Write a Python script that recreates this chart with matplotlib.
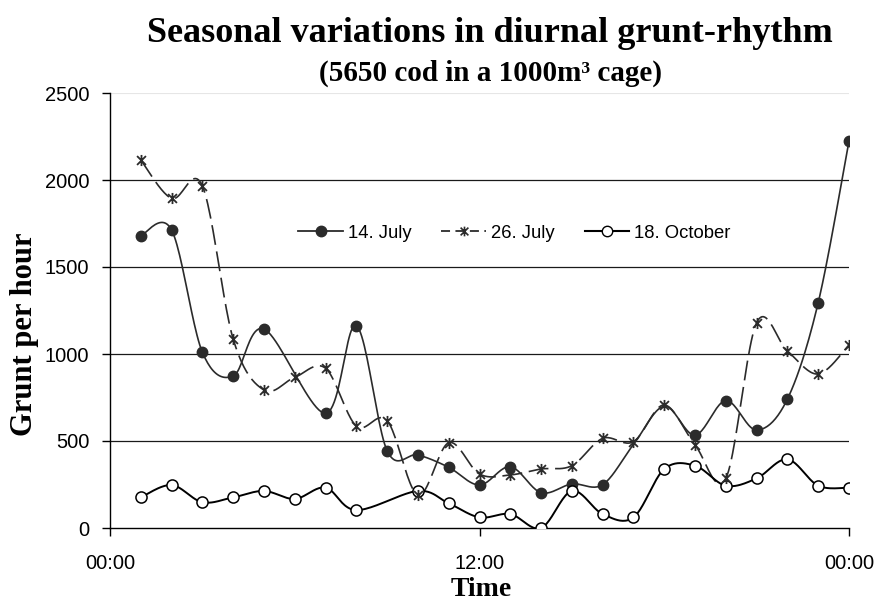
import numpy as np
import matplotlib
matplotlib.use("Agg")
import matplotlib.pyplot as plt
from matplotlib.path import Path
from matplotlib.lines import Line2D

# hourly grunt counts (nan = no value)
hours = list(range(1, 25))
july14 = [1680, 1713, 1010, 873, 1144, np.nan, 659, 1163, 444, 420, 349, 247,
          352, 203, 253, 249, 480, 700, 534, 732, 563, 741, 1295, 2224]
july26 = [2115, 1894, 1966, 1086, 793, 866, 918, 586, 617, 190, 490, 310,
          305, 339, 358, 515, 496, 707, 477, 285, 1180, 1017, 885, 1052]
oct18 = [176, 247, 148, 176, 213, 167, 232, 103, np.nan, 213, 142, 61,
         80, 0, 213, 80, 61, 339, 358, 243, 285, 395, 243, 232]
july14_no_marker = [17, 18]

tick_hours = [0, 12, 24]
tick_labels = ["00:00", "12:00", "00:00"]
y_ticks = [0, 500, 1000, 1500, 2000, 2500]

SERIF = ["Liberation Serif", "DejaVu Serif"]
SANS = ["Liberation Sans", "DejaVu Sans"]
LINE = "#2b2b2b"


def smooth(x, y, n=24):
    # excel-like smoothed line (cubic bezier, catmull-rom control points)
    p = np.array([(a, b) for a, b in zip(x, y) if not np.isnan(b)], float)
    ext = np.vstack([p[0], p, p[-1]])
    t = np.linspace(0, 1, n)[:, None]
    out = []
    for i in range(1, len(ext) - 2):
        p0, p1, p2, p3 = ext[i - 1], ext[i], ext[i + 1], ext[i + 2]
        c1 = p1 + (p2 - p0) / 6
        c2 = p2 - (p3 - p1) / 6
        seg = ((1 - t) ** 3) * p1 + 3 * (1 - t) ** 2 * t * c1 + 3 * (1 - t) * t ** 2 * c2 + t ** 3 * p2
        out.append(seg if i == 1 else seg[1:])
    out = np.vstack(out)
    return out[:, 0], out[:, 1]


star = Path([(-1, -1), (1, 1), (-1, 1), (1, -1), (0, -1.25), (0, 1.25)],
            [Path.MOVETO, Path.LINETO, Path.MOVETO, Path.LINETO, Path.MOVETO, Path.LINETO])

fig = plt.figure(figsize=(8.81, 6.04), dpi=100)
ax = fig.add_axes([110 / 881, 1 - 528 / 604, 739 / 881, 435 / 604])

for v in [500, 1000, 1500, 2000]:
    ax.axhline(v, color="#1a1a1a", lw=0.9, zorder=1)
ax.axhline(2500, color="#e6e6e6", lw=0.8, zorder=1)

# 14. July
sx, sy = smooth(hours, july14)
ax.plot(sx, sy, color=LINE, lw=1.2, zorder=2)
mx = [h for h, v in zip(hours, july14) if not np.isnan(v) and h not in july14_no_marker]
my = [v for h, v in zip(hours, july14) if not np.isnan(v) and h not in july14_no_marker]
ax.plot(mx, my, ls="none", marker="o", ms=7.5, mfc=LINE, mec=LINE, zorder=3)

# 26. July
sx, sy = smooth(hours, july26)
ax.plot(sx, sy, color=LINE, lw=1.2, dashes=(12, 4), zorder=2)
ax.plot(hours, july26, ls="none", marker=star, ms=8, mec=LINE, mew=1.3, zorder=4)

# 18. October
sx, sy = smooth(hours, oct18)
ax.plot(sx, sy, color="black", lw=1.4, zorder=2)
ax.plot(hours, oct18, ls="none", marker="o", ms=8, mfc="white", mec="black", mew=1.1, zorder=3)

ax.set_xlim(0, 24)
ax.set_ylim(0, 2500)
ax.set_xticks(tick_hours)
ax.set_xticklabels(tick_labels, fontfamily=SANS, fontsize=14.5)
ax.set_yticks(y_ticks)
ax.set_yticklabels([str(v) for v in y_ticks], fontfamily=SANS, fontsize=14.5)
ax.tick_params(axis="both", direction="out", length=6, width=1, color="black", pad=9)
ax.tick_params(axis="x", pad=13)
for s in ["top", "right"]:
    ax.spines[s].set_visible(False)
for s in ["left", "bottom"]:
    ax.spines[s].set_color("black")
    ax.spines[s].set_linewidth(1)

fig.text(481 / 881, 1 - 590 / 604, "Time", ha="center", va="center",
         fontfamily=SERIF, fontweight="bold", fontsize=20)
fig.text(25 / 881, 1 - 334 / 604, "Grunt per hour", ha="center", va="center", rotation=90,
         fontfamily=SERIF, fontweight="bold", fontsize=22)

handles = [
    Line2D([], [], color=LINE, lw=1.3, marker="o", ms=7.5, mfc=LINE, mec=LINE),
    Line2D([], [], color=LINE, lw=1.3, dashes=(5, 3), marker=star, ms=7, mec=LINE, mew=1.2),
    Line2D([], [], color="black", lw=1.5, marker="o", ms=7.5, mfc="white", mec="black"),
]
leg = ax.legend(handles, ["14. July", "26. July", "18. October"], ncol=3, frameon=False,
                loc="center left", bbox_to_anchor=(0.245, 0.678), handlelength=2.4,
                handletextpad=0.3, columnspacing=1.6, borderaxespad=0,
                prop={"family": SANS, "size": 13.3})

fig.text(490 / 881, 1 - 33 / 604, "Seasonal variations in diurnal grunt-rhythm",
         ha="center", va="center", fontfamily=SERIF, fontweight="bold", fontsize=26)
fig.text(490 / 881, 1 - 73 / 604, "(5650 cod in a 1000m\u00b3 cage)",
         ha="center", va="center", fontfamily=SERIF, fontweight="bold", fontsize=21)

fig.savefig("out.png", dpi=100)
